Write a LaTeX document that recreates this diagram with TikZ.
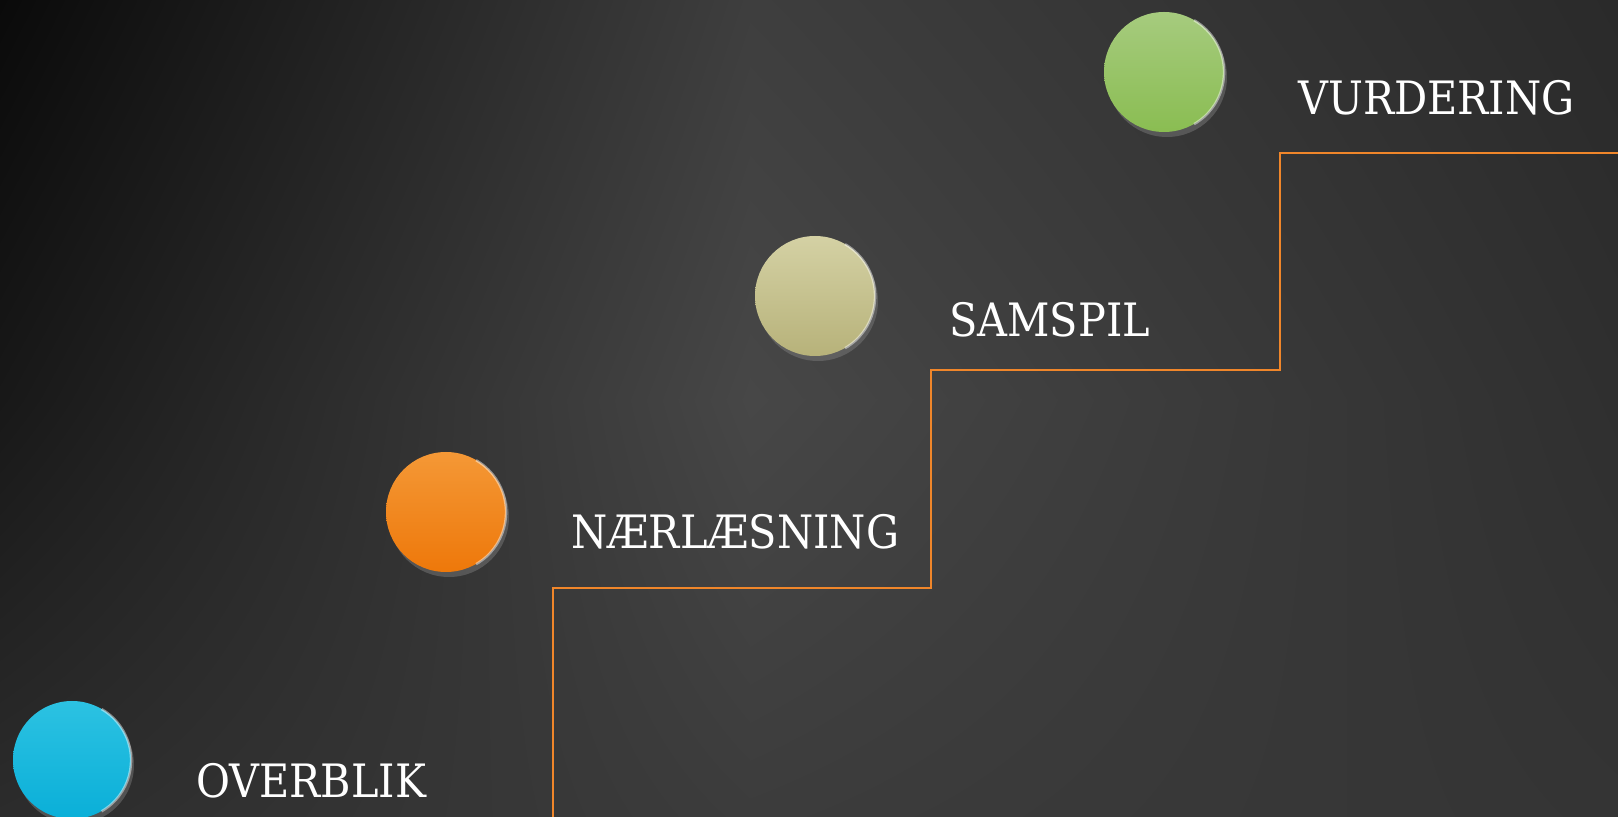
\documentclass[tikz,border=0pt]{standalone}
\usepackage{fontspec}
\setmainfont{DejaVu Serif}[FakeStretch=0.9]
\usetikzlibrary{positioning}
\usetikzlibrary{shadows}
\usetikzlibrary{shadings}

\definecolor{bgTL}{HTML}{0A0A0A}
\definecolor{bgTM}{HTML}{3E3E3E}
\definecolor{bgTR}{HTML}{2A2A2A}
\definecolor{bgML}{HTML}{181818}
\definecolor{bgMM}{HTML}{474747}
\definecolor{bgMR}{HTML}{2F2F2F}
\definecolor{bgBL}{HTML}{2C2C2C}
\definecolor{bgBM}{HTML}{3C3C3C}
\definecolor{bgBR}{HTML}{343434}
\definecolor{trappe}{HTML}{F0862A}
\definecolor{blaaTop}{HTML}{2CC2E2}
\definecolor{blaaBund}{HTML}{0AAFD8}
\definecolor{orangeTop}{HTML}{F49836}
\definecolor{orangeBund}{HTML}{EE780A}
\definecolor{sandTop}{HTML}{D4D1A4}
\definecolor{sandBund}{HTML}{B7B27A}
\definecolor{groenTop}{HTML}{A6CB7E}
\definecolor{groenBund}{HTML}{8ABD52}

\tikzset{
  knap/.style 2 args={circle, minimum size=120pt, inner sep=0pt,
    top color=#1, bottom color=#2,
    drop shadow={shadow xshift=3pt, shadow yshift=-5pt, opacity=.45}},
  kant/.style={white, opacity=.45, line width=2.5pt},
  trin/.style={anchor=base west, text=white, inner sep=0pt,
    font=\fontsize{46}{50}\selectfont},
}

\begin{document}
\begin{tikzpicture}[x=1pt,y=1pt]
			\useasboundingbox (0,0) rectangle (1618,817);
			\clip (0,0) rectangle (1618,817);
			% baggrund
			\shade[upper left=bgTL, upper right=bgTM, lower left=bgML, lower right=bgMM] (0,417) rectangle (750,817);
			\shade[upper left=bgTM, upper right=bgTR, lower left=bgMM, lower right=bgMR] (750,417) rectangle (1618,817);
			\shade[upper left=bgML, upper right=bgMM, lower left=bgBL, lower right=bgBM] (0,0) rectangle (750,417);
			\shade[upper left=bgMM, upper right=bgMR, lower left=bgBM, lower right=bgBR] (750,0) rectangle (1618,417);

			% trappen
			\draw [trappe, line width=2pt] (553,-2) |- (931,229) |- (1280,447) |- (1620,664);

			\node [knap={blaaTop}{blaaBund}, minimum size=118pt] (overblik) at (72,57) {};
			\node [knap={orangeTop}{orangeBund}] (naerlaesning) at (446,305) {};
			\node [knap={sandTop}{sandBund}] (samspil) at (815,521) {};
			\node [knap={groenTop}{groenBund}] (vurdering) at (1164,745) {};

			\draw [kant] (overblik.-60) arc [start angle=-60, end angle=60, radius=59pt];
			\draw [kant] (naerlaesning.-60) arc [start angle=-60, end angle=60, radius=60pt];
			\draw [kant] (samspil.-60) arc [start angle=-60, end angle=60, radius=60pt];
			\draw [kant] (vurdering.-60) arc [start angle=-60, end angle=60, radius=60pt];

			\node [trin] (tOverblik) at (196,19) {OVERBLIK};
			\node [trin] (tNaerlaesning) at (571,268) {NÆRLÆSNING};
			\node [trin] (tSamspil) at (949,480) {SAMSPIL};
			\node [trin] (tVurdering) at (1298,702) {VURDERING};
		\end{tikzpicture}
\end{document}
